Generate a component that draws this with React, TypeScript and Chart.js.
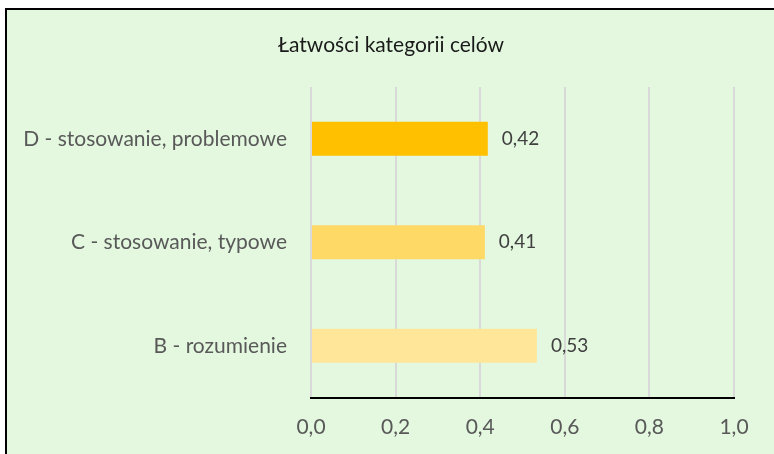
import React, { useEffect, useRef } from 'react';
import { Chart, registerables } from 'chart.js';

Chart.register(...registerables);

const chartTitle = 'Łatwości kategorii celów';
const categories = ['D - stosowanie, problemowe', 'C - stosowanie, typowe', 'B - rozumienie'];
const values = [0.418, 0.411, 0.534];
const barColors = ['#FFC000', '#FFD966', '#FFE699'];
const xMin = 0;
const xMax = 1;
const xStep = 0.2;

const FONT = 'Lato, "Open Sans", sans-serif';

const valueLabels = {
  id: 'valueLabels',
  afterDatasetsDraw(chart: any) {
    const ctx = chart.ctx;
    const meta = chart.getDatasetMeta(0);
    ctx.save();
    ctx.font = `19px ${FONT}`;
    ctx.fillStyle = '#404040';
    ctx.textAlign = 'left';
    ctx.textBaseline = 'middle';
    meta.data.forEach((el: any, i: number) => {
      const v = chart.data.datasets[0].data[i] as number;
      ctx.fillText(v.toFixed(2).replace('.', ','), el.x + 14, el.y);
    });
    ctx.restore();
  },
};

const titleDrawer = {
  id: 'titleDrawer',
  afterDraw(chart: any) {
    const ctx = chart.ctx;
    ctx.save();
    ctx.font = `21px ${FONT}`;
    ctx.fillStyle = '#1a1a1a';
    ctx.textAlign = 'center';
    ctx.textBaseline = 'middle';
    ctx.fillText(chartTitle, (8 + chart.width) / 2, 45);
    ctx.restore();
  },
};

export default function App() {
  const ref = useRef<HTMLCanvasElement>(null);

  useEffect(() => {
    if (!ref.current) return;
    const chart = new Chart(ref.current, {
      type: 'bar',
      data: {
        labels: categories,
        datasets: [
          {
            data: values,
            backgroundColor: barColors,
            borderWidth: 0,
            barPercentage: 0.33,
            categoryPercentage: 1,
          },
        ],
      },
      options: {
        indexAxis: 'y',
        animation: false,
        responsive: false,
        devicePixelRatio: 1,
        layout: { padding: { left: 8, right: 40, top: 87, bottom: 0 } },
        plugins: {
          legend: { display: false },
          tooltip: { enabled: false },
          title: { display: false },
        },
        scales: {
          x: {
            type: 'linear',
            min: xMin,
            max: xMax,
            ticks: {
              stepSize: xStep,
              color: '#595959',
              font: { family: FONT, size: 21 },
              padding: 17,
              callback: (v: any) => Number(v).toFixed(1).replace('.', ','),
            },
            grid: { color: '#D9D9D9', lineWidth: 2, drawTicks: false },
            border: { display: true, color: '#000000', width: 2 },
            afterFit: (scale: any) => {
              scale.height = 56.5;
            },
          },
          y: {
            type: 'category',
            ticks: {
              color: '#595959',
              font: { family: FONT, size: 21 },
              padding: 16,
            },
            grid: { display: false },
            border: { display: false },
            afterFit: (scale: any) => {
              scale.width = 303;
            },
          },
        },
      },
      plugins: [valueLabels, titleDrawer],
    });
    return () => chart.destroy();
  }, []);

  return (
    <div
      style={{
        position: 'fixed',
        left: 0,
        top: 0,
        width: 774,
        height: 454,
        background: '#ffffff',
        overflow: 'hidden',
      }}
    >
      <div
        style={{
          position: 'absolute',
          left: 5,
          top: 8,
          width: 820,
          height: 500,
          borderTop: '2px solid #000',
          borderLeft: '2px solid #000',
          background: '#E3F8DF',
        }}
      />
      <canvas
        ref={ref}
        width={774}
        height={454}
        style={{ position: 'absolute', left: 0, top: 0, width: 774, height: 454 }}
      />
    </div>
  );
}
